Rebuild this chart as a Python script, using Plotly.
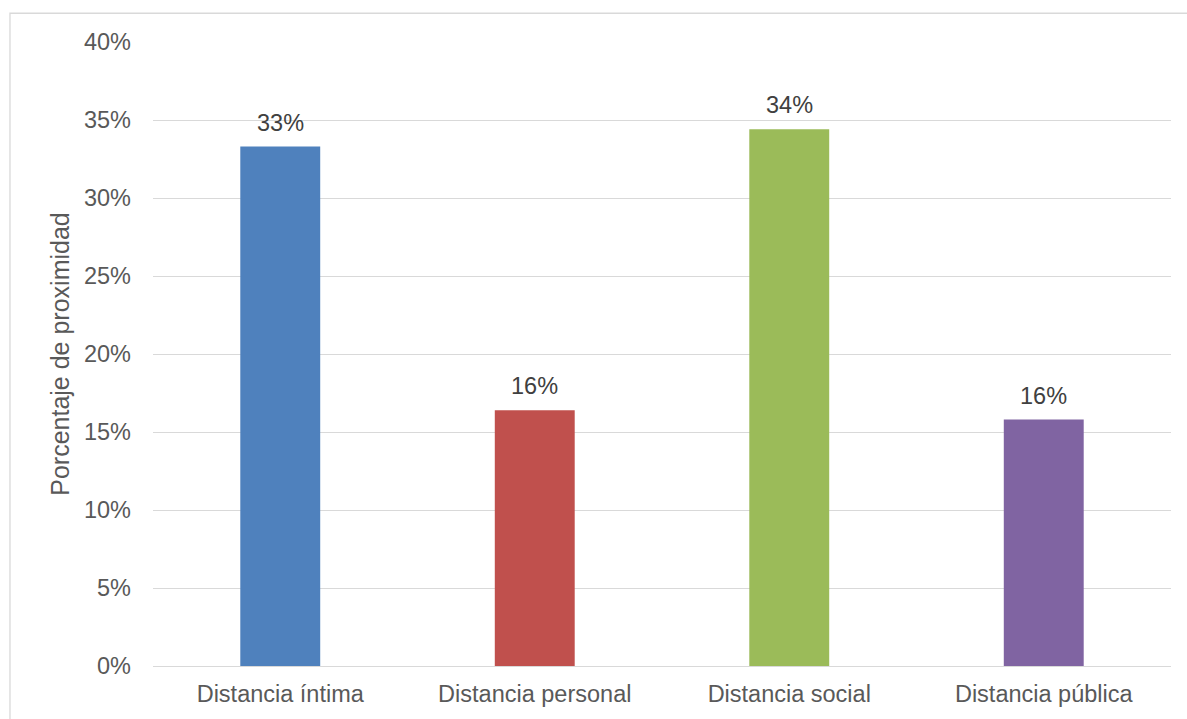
import plotly.graph_objects as go

categories = ["Distancia íntima", "Distancia personal", "Distancia social", "Distancia pública"]
values = [0.333, 0.164, 0.344, 0.158]
labels = ["33%", "16%", "34%", "16%"]
colors = ["#4F81BD", "#C0504D", "#9BBB59", "#8064A2"]
y_ticks = [0, 0.05, 0.10, 0.15, 0.20, 0.25, 0.30, 0.35, 0.40]
y_title = "Porcentaje de proximidad"

FONT = "Liberation Sans, Arial, sans-serif"

fig = go.Figure()
fig.add_trace(go.Bar(x=categories, y=values, marker=dict(color=colors, line=dict(width=0)),
                     hoverinfo="x+y"))

for c, v, t in zip(categories, values, labels):
    fig.add_annotation(x=c, y=v, text=t, showarrow=False, yanchor="bottom", yshift=9,
                       font=dict(family=FONT, size=23.5, color="#404040"))

fig.add_shape(type="rect", xref="paper", yref="paper", x0=-0.1405, x1=1.05, y0=-0.3, y1=1.0461,
              line=dict(color="#D9D9D9", width=1.3), layer="below")

fig.update_layout(
    width=1187, height=719,
    margin=dict(l=153, r=16, t=42, b=48),
    paper_bgcolor="white", plot_bgcolor="white",
    bargap=0.686,
    showlegend=False,
    font=dict(family=FONT, size=23.5, color="#595959"),
    xaxis=dict(showgrid=False, showline=False, zeroline=False, ticks="",
               tickfont=dict(family=FONT, size=23.5, color="#595959"), ticklabelstandoff=11),
    yaxis=dict(range=[0, 0.4], tickvals=y_ticks, tickformat=".0%", showgrid=True,
               gridcolor="#D9D9D9", gridwidth=1.3, zeroline=True, zerolinecolor="#D9D9D9",
               zerolinewidth=1.3, showline=False, ticks="",
               tickfont=dict(family=FONT, size=23.5, color="#595959"), ticklabelstandoff=21,
               title=dict(text=y_title, font=dict(family=FONT, size=25, color="#595959"), standoff=7)),
)

fig.write_html("out.html", config={"displayModeBar": False},
               post_script="document.body.style.margin='0px';")
